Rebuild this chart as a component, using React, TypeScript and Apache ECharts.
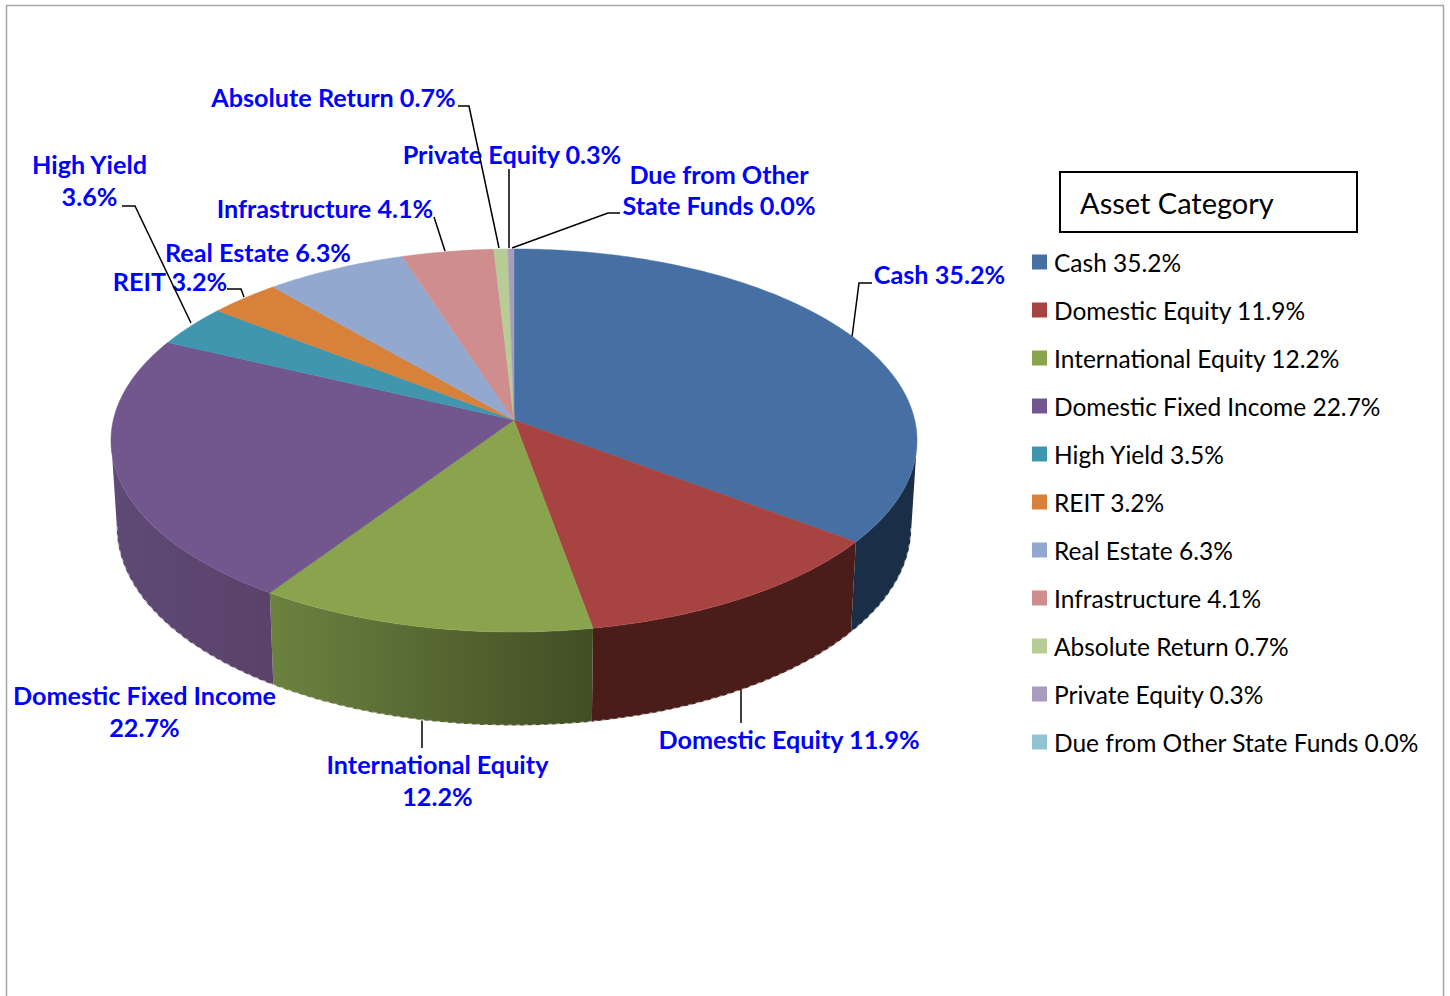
import React, { useEffect, useRef } from "react";
import * as echarts from "echarts";

const categories = [
  "Cash",
  "Domestic Equity",
  "International Equity",
  "Domestic Fixed Income",
  "High Yield",
  "REIT",
  "Real Estate",
  "Infrastructure",
  "Absolute Return",
  "Private Equity",
  "Due from Other State Funds",
];
const values = [35.2, 11.9, 12.2, 22.7, 3.5, 3.2, 6.3, 4.1, 0.7, 0.3, 0.0];
const dataLabelTexts = [
  "Cash 35.2%",
  "Domestic Equity 11.9%",
  "International Equity\n12.2%",
  "Domestic Fixed Income\n22.7%",
  "High Yield\n3.6%",
  "REIT 3.2%",
  "Real Estate 6.3%",
  "Infrastructure 4.1%",
  "Absolute Return 0.7%",
  "Private Equity 0.3%",
  "Due from Other\nState Funds 0.0%",
];
const legendTitle = "Asset Category";

// styles
const topColors = ["#4670A4", "#A74442", "#89A44D", "#71578E", "#3F96AE", "#D7813B", "#93A8CE", "#CF8E8D", "#B8CD96", "#A99BBD", "#92C3D5"];
const sideColors: [string, string][] = [
  ["#1A2E47", "#1A2E47"],
  ["#4A1C1A", "#4A1C1A"],
  ["#6C8240", "#414E24"],
  ["#5E4A76", "#5A4269"],
  ["#2A6072", "#2A6072"],
  ["#8A5226", "#8A5226"],
  ["#5E6C85", "#5E6C85"],
  ["#855B5A", "#855B5A"],
  ["#768361", "#768361"],
  ["#6C6379", "#6C6379"],
  ["#5E7D89", "#5E7D89"],
];

// perspective ellipse of the pie
const GEO = { cx: 514, topY: 420, R: 400.7, S: 189.3, k: 0.107, botY: 506, Rb: 395, Sb: 196 };
const RAD = Math.PI / 180;
const clamp01 = (x: number) => Math.max(0, Math.min(1, x));
function rim(deg0: number, bottom: boolean): number[] {
  // the source's 3D projection turns the rim very slightly clockwise, except right at the start
  const deg = deg0 + 0.45 * clamp01(deg0 / 30) * clamp01((360 - deg0) / 4);
  const u = Math.sin(deg * RAD);
  const v = -Math.cos(deg * RAD);
  const w = 1 - GEO.k * v;
  return bottom
    ? [GEO.cx + (GEO.Rb * u) / w, GEO.botY + (GEO.Sb * v) / w]
    : [GEO.cx + (GEO.R * u) / w, GEO.topY + (GEO.S * v) / w];
}
function arc(a: number, b: number, bottom: boolean): number[][] {
  const n = Math.max(1, Math.ceil((b - a) / 0.75));
  const out: number[][] = [];
  for (let i = 0; i <= n; i++) out.push(rim(a + ((b - a) * i) / n, bottom));
  return out;
}

const LABEL_POS: [number, number][] = [
  [939.5, 274], [789, 739], [437.5, 780], [144.5, 711], [89.5, 180], [170, 281], [258, 252], [325, 208], [333.5, 97], [512, 154], [719, 189.5],
];
const LEADERS: number[][][] = [
  [[872, 283], [859, 283], [852, 337]],
  [[741, 687], [741, 723]],
  [[422, 717], [422, 748]],
  [[122, 206], [135, 206], [191, 323]],
  [[227, 289], [241, 289], [244, 297]],
  [[434, 217], [445, 251]],
  [[458, 106], [469, 106], [499, 248]],
  [[509, 169], [509, 248]],
  [[620, 213], [608, 213], [512, 248]],
];

export default function App() {
  const ref = useRef<HTMLDivElement>(null);
  useEffect(() => {
    document.body.style.margin = "0";
    document.body.style.overflow = "hidden";
    const chart = echarts.init(ref.current!, null, { renderer: "svg" });
    const total = values.reduce((a, b) => a + b, 0);
    let cum = 0;
    const series = categories.map((c, i) => {
      const start = (cum / total) * 360;
      cum += values[i];
      const end = (cum / total) * 360;
      return {
        type: "custom",
        name: `${c} ${values[i].toFixed(1)}%`,
        coordinateSystem: "none",
        silent: true,
        itemStyle: { color: topColors[i] },
        data: [[start, end]],
        renderItem: (_p: any, api: any) => {
          const a = api.value(0);
          const b = api.value(1);
          const children: any[] = [];
          if (b - a <= 0) return { type: "group", children };
          const sa = Math.max(a, 96);
          const sb = Math.min(b, 264);
          if (sb > sa) {
            const pts = [...arc(sa, sb, false), ...arc(sa, sb, true).reverse()];
            children.push({
              type: "polygon",
              shape: { points: pts },
              style: {
                fill: new echarts.graphic.LinearGradient(0, 0, 1, 0, [
                  { offset: 0, color: sideColors[i][0] },
                  { offset: 1, color: sideColors[i][1] },
                ]),
              },
            });
            children.push({
              type: "polyline",
              shape: { points: arc(sa, sb, true) },
              style: { fill: "none", stroke: "rgba(255,255,255,0.5)", lineWidth: 2, lineDash: [4, 4] },
            });
          }
          children.push({
            type: "polygon",
            shape: { points: [[GEO.cx, GEO.topY], ...arc(a, b, false)] },
            style: { fill: topColors[i], stroke: topColors[i], lineWidth: 0.5 },
          });
          return { type: "group", children };
        },
      };
    });
    const elements: any[] = [
      {
        type: "polyline",
        shape: { points: [[6.5, 1000], [6.5, 5.5], [1443.5, 5.5], [1443.5, 1000]] },
        style: { fill: "none", stroke: "#a6a6a6", lineWidth: 1.5 },
      },
      {
        type: "rect",
        shape: { x: 1060, y: 172, width: 297, height: 60 },
        style: { fill: "#fff", stroke: "#000", lineWidth: 2 },
      },
      {
        type: "text",
        style: { text: legendTitle, x: 1080, y: 202, fill: "#000", font: "29px Lato", textVerticalAlign: "middle" },
      },
    ];
    dataLabelTexts.forEach((t, i) => {
      elements.push({
        type: "text",
        style: {
          text: t,
          x: LABEL_POS[i][0],
          y: LABEL_POS[i][1],
          fill: "#0000FF",
          font: "bold 25.2px Lato",
          lineHeight: 31.5,
          textAlign: "center",
          textVerticalAlign: "middle",
        },
      });
    });
    LEADERS.forEach((pts) => {
      elements.push({
        type: "polyline",
        shape: { points: pts },
        style: { fill: "none", stroke: "#000", lineWidth: 1.5 },
      });
    });
    chart.setOption({
      animation: false,
      backgroundColor: "#fff",
      legend: {
        show: true,
        orient: "vertical",
        left: 1032,
        top: 247,
        padding: 0,
        itemWidth: 15,
        itemHeight: 15,
        itemGap: 18,
        selectedMode: false,
        icon: "rect",
        textStyle: { fontFamily: "Lato", fontSize: 24.5, lineHeight: 30, color: "#000", padding: [0, 0, 0, 2] },
      },
      series,
      graphic: { elements },
    });
    return () => chart.dispose();
  }, []);
  return <div ref={ref} style={{ position: "absolute", left: 0, top: 0, width: 1450, height: 996 }} />;
}
